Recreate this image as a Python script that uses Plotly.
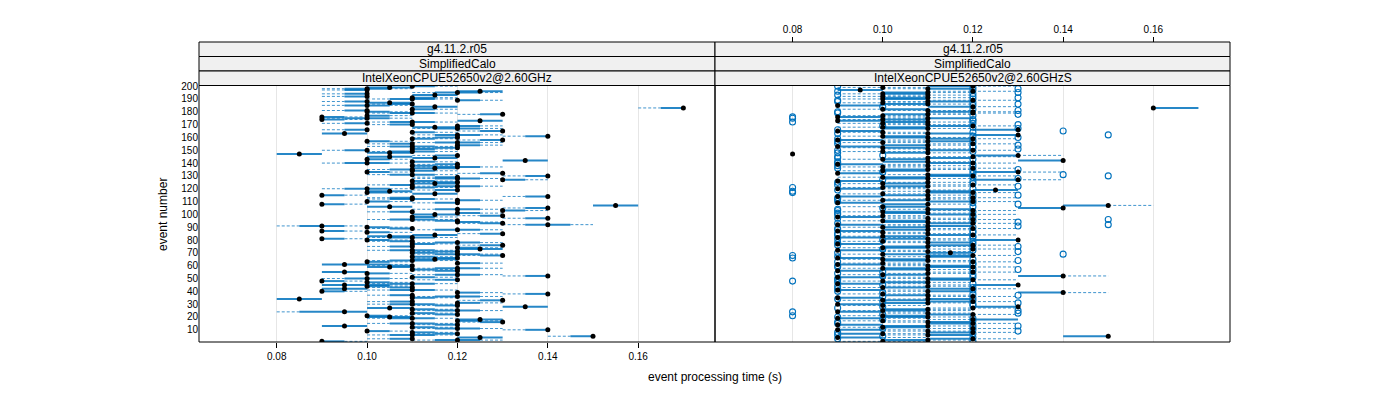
import plotly.graph_objects as go

events = list(range(1, 201))

# ---------------- left panel: per-event box statistics (seconds) ----------------
left_med = [
    0.09, 0.12, 0.11, 0.125, 0.15, 0.11, 0.12, 0.11, 0.10, 0.14,
    0.12, 0.11, 0.095, 0.12, 0.11, 0.13, 0.12, 0.125, 0.11, 0.105,
    0.10, 0.12, 0.11, 0.095, 0.12, 0.11, 0.105, 0.135, 0.12, 0.11,
    0.12, 0.11, 0.13, 0.085, 0.11, 0.12, 0.11, 0.14, 0.12, 0.09,
    0.11, 0.095, 0.11, 0.10, 0.095, 0.11, 0.10, 0.09, 0.12, 0.10,
    0.11, 0.14, 0.12, 0.10, 0.095, 0.12, 0.11, 0.12, 0.105, 0.11,
    0.095, 0.12, 0.10, 0.11, 0.115, 0.12, 0.11, 0.13, 0.12, 0.11,
    0.12, 0.11, 0.125, 0.12, 0.11, 0.13, 0.11, 0.12, 0.11, 0.10,
    0.09, 0.11, 0.105, 0.115, 0.13, 0.10, 0.09, 0.12, 0.11, 0.10,
    0.09, 0.14, 0.13, 0.12, 0.12, 0.11, 0.14, 0.11, 0.13, 0.115,
    0.12, 0.11, 0.13, 0.12, 0.14, 0.105, 0.155, 0.09, 0.12, 0.10,
    0.12, 0.11, 0.11, 0.14, 0.09, 0.115, 0.10, 0.105, 0.12, 0.10,
    0.11, 0.12, 0.11, 0.115, 0.12, 0.11, 0.13, 0.12, 0.12, 0.14,
    0.11, 0.13, 0.10, 0.11, 0.11, 0.115, 0.12, 0.11, 0.12, 0.10,
    0.11, 0.135, 0.10, 0.115, 0.105, 0.12, 0.085, 0.105, 0.11, 0.10,
    0.11, 0.12, 0.11, 0.12, 0.11, 0.12, 0.10, 0.13, 0.11, 0.12,
    0.14, 0.12, 0.095, 0.11, 0.13, 0.10, 0.12, 0.115, 0.12, 0.11,
    0.10, 0.11, 0.125, 0.09, 0.10, 0.09, 0.10, 0.13, 0.11, 0.10,
    0.10, 0.11, 0.17, 0.115, 0.10, 0.11, 0.105, 0.10, 0.12, 0.11,
    0.11, 0.10, 0.115, 0.10, 0.12, 0.125, 0.10, 0.10, 0.105, 0.11,
]
left_lo = [
    .09, .11, .10, .12, .14, .10, .11, .11, .10, .13,
    .11, .11, .09, .11, .10, .12, .12, .12, .10, .10,
    .10, .11, .11, .08, .11, .11, .10, .13, .11, .10,
    .12, .10, .12, .08, .11, .11, .10, .13, .12, .09,
    .10, .09, .10, .10, .09, .10, .10, .09, .11, .09,
    .11, .13, .11, .10, .09, .11, .11, .11, .10, .10,
    .09, .12, .10, .10, .11, .11, .11, .12, .11, .11,
    .11, .10, .12, .12, .10, .12, .11, .11, .10, .10,
    .09, .10, .10, .11, .12, .10, .09, .11, .10, .10,
    .08, .13, .12, .12, .11, .10, .13, .11, .12, .11,
    .12, .10, .13, .11, .13, .10, .15, .09, .11, .10,
    .12, .10, .10, .13, .09, .11, .10, .10, .11, .09,
    .11, .11, .10, .11, .11, .11, .13, .11, .11, .13,
    .10, .12, .10, .11, .10, .11, .11, .11, .11, .09,
    .11, .13, .10, .11, .10, .11, .08, .10, .10, .09,
    .11, .11, .10, .12, .10, .11, .10, .12, .11, .11,
    .13, .11, .09, .11, .12, .09, .11, .11, .12, .10,
    .09, .10, .12, .09, .09, .09, .10, .12, .10, .10,
    .09, .11, .16, .11, .09, .10, .10, .09, .12, .10,
    .11, .09, .11, .09, .11, .12, .09, .09, .10, .11,
]
left_q1 = [
    .09, .115, .105, .12, .145, .105, .115, .11, .10, .135,
    .115, .11, .09, .115, .105, .125, .12, .12, .105, .10,
    .10, .115, .11, .085, .115, .11, .10, .13, .115, .105,
    .12, .105, .125, .08, .11, .115, .105, .135, .12, .09,
    .105, .09, .105, .10, .09, .105, .10, .09, .115, .095,
    .11, .135, .115, .10, .09, .115, .11, .115, .10, .105,
    .09, .12, .10, .105, .11, .115, .11, .125, .115, .11,
    .115, .105, .12, .12, .105, .125, .11, .115, .105, .10,
    .09, .105, .10, .11, .125, .10, .09, .115, .105, .10,
    .085, .135, .125, .12, .115, .105, .135, .11, .125, .11,
    .12, .105, .13, .115, .135, .10, .15, .09, .115, .10,
    .12, .105, .105, .135, .09, .11, .10, .10, .115, .095,
    .11, .115, .105, .11, .115, .11, .13, .115, .115, .135,
    .105, .125, .10, .11, .105, .11, .115, .11, .115, .095,
    .11, .13, .10, .11, .10, .115, .08, .10, .105, .095,
    .11, .115, .105, .12, .105, .115, .10, .125, .11, .115,
    .135, .115, .09, .11, .125, .095, .115, .11, .12, .105,
    .095, .105, .12, .09, .095, .09, .10, .125, .105, .10,
    .095, .11, .165, .11, .095, .105, .10, .095, .12, .105,
    .11, .095, .11, .095, .115, .12, .095, .095, .10, .11,
]
left_q3 = [
    .095, .125, .11, .13, .15, .115, .12, .115, .105, .14,
    .125, .115, .10, .12, .115, .13, .125, .13, .115, .11,
    .105, .12, .115, .10, .125, .115, .11, .14, .12, .115,
    .125, .11, .13, .09, .115, .125, .11, .14, .125, .095,
    .115, .10, .11, .105, .105, .115, .105, .095, .12, .105,
    .115, .14, .125, .105, .10, .12, .115, .125, .11, .11,
    .105, .125, .105, .115, .12, .12, .115, .13, .125, .115,
    .12, .115, .13, .125, .11, .13, .115, .125, .11, .105,
    .095, .115, .11, .12, .13, .105, .095, .125, .11, .105,
    .095, .145, .13, .125, .12, .115, .14, .115, .13, .12,
    .125, .11, .135, .125, .14, .11, .16, .095, .12, .105,
    .125, .115, .11, .14, .095, .12, .105, .11, .12, .105,
    .115, .125, .11, .12, .12, .115, .135, .125, .12, .14,
    .115, .13, .105, .115, .11, .12, .125, .115, .12, .105,
    .115, .14, .105, .12, .11, .12, .09, .11, .115, .10,
    .115, .12, .115, .125, .11, .125, .105, .13, .115, .12,
    .14, .125, .10, .115, .13, .10, .125, .12, .125, .11,
    .10, .115, .13, .095, .105, .095, .105, .13, .115, .105,
    .10, .115, .17, .12, .105, .11, .11, .10, .125, .115,
    .115, .10, .12, .10, .125, .13, .10, .105, .11, .115,
]
left_hi = [
    .10, .13, .11, .13, .15, .12, .12, .12, .11, .14,
    .13, .12, .10, .12, .12, .13, .13, .13, .12, .11,
    .11, .12, .12, .10, .13, .12, .11, .14, .12, .12,
    .13, .11, .13, .09, .12, .13, .11, .14, .13, .10,
    .12, .10, .11, .11, .11, .12, .11, .10, .12, .11,
    .12, .14, .13, .11, .10, .12, .12, .13, .11, .11,
    .11, .13, .11, .12, .12, .12, .12, .13, .13, .12,
    .12, .12, .13, .13, .11, .13, .12, .13, .11, .11,
    .10, .12, .11, .12, .13, .11, .10, .13, .11, .11,
    .10, .15, .13, .13, .12, .12, .14, .12, .13, .12,
    .13, .11, .14, .13, .14, .11, .16, .10, .12, .11,
    .13, .12, .11, .14, .10, .12, .11, .11, .12, .11,
    .12, .13, .11, .12, .12, .12, .14, .13, .12, .14,
    .12, .13, .11, .12, .11, .12, .13, .12, .12, .11,
    .12, .14, .11, .12, .11, .12, .09, .11, .12, .10,
    .12, .12, .12, .13, .11, .13, .11, .13, .12, .12,
    .14, .13, .10, .12, .13, .10, .13, .12, .13, .11,
    .10, .12, .13, .10, .11, .10, .11, .13, .12, .11,
    .10, .12, .17, .12, .11, .11, .11, .10, .13, .12,
    .12, .10, .12, .10, .13, .13, .10, .11, .11, .12,
]

# ---------------- right panel: per-event box statistics (seconds) ----------------
right_med = [
    0.10, 0.11, 0.12, 0.09, 0.15, 0.11, 0.10, 0.12, 0.11, 0.09,
    0.12, 0.10, 0.11, 0.09, 0.12, 0.11, 0.10, 0.12, 0.09, 0.11,
    0.10, 0.12, 0.11, 0.09, 0.10, 0.11, 0.12, 0.13, 0.10, 0.09,
    0.11, 0.12, 0.10, 0.11, 0.09, 0.12, 0.11, 0.10, 0.14, 0.11,
    0.09, 0.12, 0.10, 0.11, 0.13, 0.09, 0.11, 0.10, 0.12, 0.11,
    0.09, 0.14, 0.10, 0.11, 0.12, 0.09, 0.11, 0.10, 0.12, 0.11,
    0.09, 0.10, 0.12, 0.11, 0.10, 0.09, 0.11, 0.12, 0.10, 0.115,
    0.11, 0.09, 0.12, 0.10, 0.11, 0.12, 0.09, 0.11, 0.10, 0.13,
    0.11, 0.09, 0.10, 0.12, 0.11, 0.10, 0.09, 0.11, 0.12, 0.10,
    0.11, 0.09, 0.12, 0.11, 0.10, 0.12, 0.11, 0.09, 0.10, 0.12,
    0.11, 0.10, 0.12, 0.11, 0.14, 0.10, 0.15, 0.11, 0.09, 0.12,
    0.10, 0.11, 0.12, 0.09, 0.11, 0.10, 0.12, 0.11, 0.125, 0.09,
    0.10, 0.11, 0.12, 0.10, 0.11, 0.09, 0.13, 0.11, 0.10, 0.12,
    0.11, 0.09, 0.13, 0.10, 0.11, 0.12, 0.10, 0.11, 0.09, 0.12,
    0.11, 0.14, 0.10, 0.11, 0.12, 0.13, 0.08, 0.11, 0.10, 0.12,
    0.11, 0.10, 0.09, 0.11, 0.12, 0.10, 0.11, 0.09, 0.12, 0.11,
    0.10, 0.13, 0.11, 0.10, 0.09, 0.13, 0.11, 0.10, 0.12, 0.11,
    0.10, 0.11, 0.09, 0.10, 0.11, 0.09, 0.10, 0.11, 0.12, 0.12,
    0.11, 0.10, 0.16, 0.12, 0.09, 0.11, 0.10, 0.11, 0.12, 0.10,
    0.11, 0.10, 0.11, 0.10, 0.11, 0.12, 0.095, 0.11, 0.10, 0.12,
]
right_lo = [
    .09, .10, .11, .09, .14, .10, .09, .11, .10, .09,
    .11, .09, .10, .09, .11, .10, .09, .11, .09, .10,
    .09, .11, .10, .09, .09, .10, .11, .12, .09, .09,
    .10, .11, .09, .10, .09, .11, .10, .09, .13, .10,
    .09, .11, .09, .10, .11, .09, .10, .09, .11, .10,
    .09, .13, .09, .10, .11, .09, .10, .09, .11, .10,
    .09, .09, .11, .10, .09, .09, .10, .11, .09, .11,
    .10, .09, .11, .09, .10, .11, .09, .10, .09, .11,
    .10, .09, .09, .11, .10, .09, .09, .10, .11, .09,
    .10, .09, .11, .10, .09, .11, .10, .09, .09, .11,
    .10, .09, .11, .10, .13, .09, .14, .10, .09, .11,
    .09, .10, .11, .09, .10, .09, .11, .10, .11, .09,
    .09, .10, .11, .09, .10, .09, .12, .10, .09, .11,
    .10, .09, .12, .09, .10, .11, .09, .10, .09, .11,
    .10, .13, .09, .10, .11, .12, .08, .10, .09, .11,
    .10, .09, .09, .10, .11, .09, .10, .09, .11, .10,
    .09, .12, .10, .09, .09, .12, .10, .09, .11, .10,
    .09, .10, .09, .09, .10, .09, .09, .10, .11, .11,
    .10, .09, .16, .11, .09, .10, .09, .10, .11, .09,
    .10, .09, .10, .09, .10, .11, .09, .10, .09, .11,
]
right_q1 = [
    .10, .10, .11, .09, .14, .11, .09, .11, .11, .09,
    .12, .10, .10, .09, .11, .11, .10, .12, .09, .10,
    .10, .11, .11, .09, .10, .10, .12, .12, .10, .09,
    .10, .11, .10, .11, .09, .12, .10, .10, .13, .11,
    .09, .11, .10, .11, .12, .09, .10, .10, .11, .11,
    .09, .13, .10, .11, .12, .09, .10, .10, .11, .11,
    .09, .10, .12, .10, .10, .09, .11, .11, .10, .11,
    .11, .09, .12, .10, .10, .11, .09, .11, .10, .12,
    .10, .09, .10, .11, .11, .10, .09, .10, .12, .10,
    .11, .09, .11, .10, .10, .12, .11, .09, .10, .11,
    .10, .10, .12, .11, .13, .10, .14, .10, .09, .11,
    .10, .11, .12, .09, .10, .10, .11, .11, .12, .09,
    .10, .10, .12, .10, .11, .09, .12, .10, .10, .11,
    .11, .09, .12, .10, .10, .12, .10, .11, .09, .11,
    .10, .13, .10, .11, .12, .12, .08, .10, .10, .11,
    .11, .10, .09, .10, .12, .10, .11, .09, .11, .10,
    .10, .12, .11, .10, .09, .12, .10, .10, .11, .11,
    .10, .10, .09, .10, .11, .09, .10, .10, .12, .11,
    .11, .10, .16, .11, .09, .10, .10, .11, .12, .10,
    .10, .10, .11, .10, .10, .12, .09, .11, .10, .11,
]
right_q3 = [
    .10, .11, .12, .10, .15, .12, .10, .12, .11, .10,
    .12, .11, .11, .10, .12, .12, .10, .13, .10, .11,
    .11, .12, .11, .10, .11, .11, .12, .13, .10, .10,
    .11, .12, .11, .12, .10, .12, .11, .10, .14, .12,
    .10, .12, .11, .11, .13, .10, .11, .10, .12, .12,
    .10, .14, .11, .11, .12, .10, .11, .11, .12, .12,
    .10, .10, .12, .11, .11, .10, .12, .12, .11, .12,
    .11, .10, .12, .11, .11, .12, .10, .12, .10, .13,
    .11, .10, .11, .12, .11, .10, .10, .11, .12, .11,
    .12, .10, .12, .11, .11, .12, .11, .10, .10, .12,
    .11, .11, .12, .12, .14, .11, .15, .11, .10, .12,
    .11, .11, .12, .10, .11, .10, .12, .12, .13, .10,
    .10, .11, .12, .11, .11, .10, .13, .11, .11, .12,
    .12, .10, .13, .11, .11, .12, .10, .11, .10, .12,
    .11, .14, .11, .12, .12, .13, .08, .11, .10, .12,
    .11, .11, .10, .11, .12, .10, .12, .10, .12, .11,
    .11, .13, .12, .10, .10, .13, .11, .11, .12, .11,
    .10, .11, .10, .11, .12, .10, .10, .11, .12, .12,
    .11, .11, .17, .12, .10, .11, .10, .12, .12, .11,
    .11, .10, .11, .11, .11, .12, .10, .12, .10, .12,
]
right_hi = [
    .11, .12, .13, .11, .15, .12, .11, .13, .12, .11,
    .13, .11, .12, .10, .13, .12, .11, .13, .11, .12,
    .11, .13, .12, .11, .12, .12, .13, .13, .11, .10,
    .12, .13, .11, .12, .10, .13, .12, .11, .15, .12,
    .11, .13, .11, .12, .13, .11, .12, .11, .13, .12,
    .11, .15, .11, .12, .13, .10, .12, .11, .13, .12,
    .11, .11, .13, .12, .11, .10, .12, .13, .12, .12,
    .12, .11, .13, .11, .12, .13, .10, .12, .11, .13,
    .12, .11, .11, .13, .12, .11, .10, .12, .13, .11,
    .12, .11, .13, .12, .11, .13, .12, .11, .11, .13,
    .12, .11, .13, .12, .14, .11, .16, .12, .10, .13,
    .11, .12, .13, .10, .12, .11, .13, .12, .13, .11,
    .11, .12, .13, .11, .12, .10, .14, .12, .11, .13,
    .12, .10, .14, .11, .12, .13, .11, .12, .11, .13,
    .12, .14, .11, .12, .13, .14, .08, .12, .11, .13,
    .12, .11, .10, .12, .13, .11, .12, .11, .13, .12,
    .11, .13, .12, .11, .10, .13, .12, .11, .13, .12,
    .11, .12, .11, .11, .12, .11, .11, .12, .13, .13,
    .12, .11, .17, .13, .11, .12, .11, .12, .13, .11,
    .12, .11, .12, .11, .12, .13, .10, .12, .11, .13,
]
right_out_event = [
    1, 3, 4, 5, 6, 7, 8, 9, 10,
    11, 12, 13, 14, 15, 16, 17, 18, 19, 20,
    21, 22, 23, 24, 25, 27, 28, 29, 30,
    31, 32, 33, 34, 35, 36, 37, 38, 39, 40,
    41, 42, 43, 44, 45, 46, 47, 48, 49, 50,
    51, 52, 53, 54, 55, 56, 57, 58, 59, 60,
    61, 62, 63, 64, 65, 66, 67, 68, 69, 70,
    71, 72, 73, 74, 75, 76, 77, 78, 79, 80,
    81, 82, 83, 84, 85, 86, 87, 88, 89, 90,
    91, 92, 93, 94, 95, 96, 97, 98, 99, 100,
    101, 102, 103, 104, 105, 106, 108, 109, 110,
    111, 112, 113, 114, 115, 116, 117, 118, 119, 120,
    121, 122, 123, 124, 125, 126, 127, 128, 129, 130,
    131, 132, 133, 134, 135, 136, 137, 138, 139, 140,
    141, 143, 144, 145, 146, 148, 149, 150,
    151, 152, 153, 154, 155, 156, 157, 158, 159, 160,
    161, 162, 163, 164, 165, 166, 167, 168, 169, 170,
    171, 172, 173, 174, 175, 176, 177, 178, 179, 180,
    181, 182, 184, 185, 186, 187, 188, 189, 190,
    191, 192, 193, 194, 195, 196, 197, 198, 199, 200,
]
right_out_value = [
    .12, .09, .12, .10, .09, .12, .09, .13, .12,
    .10, .12, .13, .12, .09, .09, .12, .10, .12, .09,
    .08, .10, .13, .08, .13, .09, .10, .12, .12,
    .13, .10, .12, .09, .12, .10, .13, .12, .10, .09,
    .12, .09, .12, .09, .10, .12, .09, .08, .09, .09,
    .12, .10, .12, .09, .10, .12, .13, .12, .09, .09,
    .12, .12, .09, .13, .12, .08, .09, .08, .14, .09,
    .13, .12, .10, .12, .13, .09, .12, .09, .12, .10,
    .09, .12, .12, .09, .09, .12, .12, .09, .09, .12,
    .13, .15, .09, .13, .12, .15, .09, .12, .12, .09,
    .09, .12, .09, .09, .10, .12, .13, .12, .09,
    .12, .09, .09, .12, .13, .12, .08, .08, .09, .12,
    .08, .13, .09, .12, .09, .12, .10, .13, .12, .15,
    .14, .12, .10, .12, .13, .09, .12, .09, .12, .09,
    .09, .12, .09, .09, .10, .09, .12, .09,
    .13, .12, .12, .13, .09, .12, .09, .12, .09, .13,
    .12, .15, .09, .12, .14, .09, .13, .12, .10, .13,
    .12, .08, .12, .12, .08, .08, .12, .13, .09, .09,
    .13, .12, .10, .12, .13, .12, .09, .09, .12,
    .13, .12, .09, .12, .13, .09, .12, .13, .12, .09,
]

x_ticks = [0.08, 0.10, 0.12, 0.14, 0.16]
x_tick_labels = ["0.08", "0.10", "0.12", "0.14", "0.16"]
y_ticks = list(range(10, 201, 10))
strips_left = ["g4.11.2.r05", "SimplifiedCalo", "IntelXeonCPUE52650v2@2.60GHz"]
strips_right = ["g4.11.2.r05", "SimplifiedCalo", "IntelXeonCPUE52650v2@2.60GHzS"]

X_RANGE = [0.0628, 0.1770]
Y_RANGE = [0.5, 200.5]
FONT = "Liberation Sans, Arial, Helvetica, sans-serif"
BOX_COL = "rgba(0,114,189,0.85)"
WHISK_COL = "rgba(0,114,189,0.75)"
OUT_COL = "#0072BD"

# page is offset by the 8px default body margin
OFF = 8
W, H = 1400, 400
ML, MR, MT = 199 - OFF, 1400 - 1230 + OFF, 42 - OFF
PLOT_H = 300
MB = H - MT - PLOT_H
PLOT_W = W - ML - MR
data_top = (342 - 85.5) / PLOT_H
split = (715 - 199) / PLOT_W


def segments(x0s, x1s, ys):
    xs, yy = [], []
    for a, b, y in zip(x0s, x1s, ys):
        if b > a:
            xs += [a, b, None]
            yy += [y, y, None]
    return xs, yy


def add_panel(med, lo, q1, q3, hi, xa, ya):
    wx1, wy1 = segments(lo, q1, events)
    wx2, wy2 = segments(q3, hi, events)
    fig.add_trace(go.Scatter(x=wx1 + wx2, y=wy1 + wy2, mode="lines",
                             line=dict(color=WHISK_COL, width=1, dash="3px,2px"),
                             xaxis=xa, yaxis=ya, hoverinfo="skip", showlegend=False))
    bx, by = segments(q1, q3, events)
    fig.add_trace(go.Scatter(x=bx, y=by, mode="lines", line=dict(color=BOX_COL, width=2),
                             xaxis=xa, yaxis=ya, hoverinfo="skip", showlegend=False))


fig = go.Figure()
add_panel(left_med, left_lo, left_q1, left_q3, left_hi, "x", "y")
fig.add_trace(go.Scatter(x=left_med, y=events, mode="markers", marker=dict(color="black", size=5),
                         xaxis="x", yaxis="y", showlegend=False))

add_panel(right_med, right_lo, right_q1, right_q3, right_hi, "x2", "y2")
fig.add_trace(go.Scatter(x=right_out_value, y=right_out_event, mode="markers",
                         marker=dict(color=OUT_COL, size=6, symbol="circle-open",
                                     line=dict(color=OUT_COL, width=1.1)),
                         xaxis="x2", yaxis="y2", showlegend=False))
fig.add_trace(go.Scatter(x=right_med, y=events, mode="markers", marker=dict(color="black", size=5),
                         xaxis="x2", yaxis="y2", showlegend=False))

tickfont = dict(family=FONT, size=10, color="black")
common_x = dict(range=X_RANGE, tickvals=x_ticks, ticktext=x_tick_labels, showgrid=True, gridcolor="#e6e6e6",
                gridwidth=1, zeroline=False, showline=False, tickfont=tickfont, ticks="outside", ticklen=5,
                tickcolor="black", fixedrange=True)
plain_ticks = dict(range=X_RANGE, tickvals=x_ticks, showticklabels=False, ticks="outside", ticklen=5,
                   tickcolor="black", showgrid=False, zeroline=False, showline=False, fixedrange=True)

fig.update_layout(
    width=W, height=H,
    margin=dict(l=ML, r=MR, t=MT, b=MB),
    paper_bgcolor="white", plot_bgcolor="white",
    font=dict(family=FONT, color="black"),
    xaxis=dict(domain=[0, split], anchor="y", side="bottom", **common_x),
    xaxis2=dict(domain=[split, 1], anchor="free", position=1.0, side="top", **common_x),
    xaxis3=dict(domain=[0, split], anchor="free", position=1.0, side="top", overlaying="x", **plain_ticks),
    xaxis4=dict(domain=[split, 1], anchor="y2", side="bottom", overlaying="x2", **plain_ticks),
    yaxis=dict(domain=[0, data_top], anchor="x", range=Y_RANGE, tickvals=y_ticks, showgrid=False, zeroline=False,
               showline=False, ticks="", tickfont=tickfont, fixedrange=True),
    yaxis2=dict(domain=[0, data_top], anchor="x2", range=Y_RANGE, tickvals=y_ticks, showgrid=False, zeroline=False,
                showline=False, showticklabels=False, ticks="", fixedrange=True),
)

shapes = []
for x0, x1 in [(0, split), (split, 1)]:
    shapes.append(dict(type="rect", xref="paper", yref="paper", x0=x0, x1=x1, y0=0, y1=data_top,
                       line=dict(color="black", width=1), fillcolor="rgba(0,0,0,0)", layer="above"))
strip_h = (1 - data_top) / 3
annotations = []
for (x0, x1), labels in [((0, split), strips_left), ((split, 1), strips_right)]:
    for k, lab in enumerate(labels):
        y1 = 1 - k * strip_h
        y0 = y1 - strip_h
        shapes.append(dict(type="rect", xref="paper", yref="paper", x0=x0, x1=x1, y0=y0, y1=y1,
                           line=dict(color="black", width=1), fillcolor="#f0f0f0", layer="below"))
        annotations.append(dict(xref="paper", yref="paper", x=(x0 + x1) / 2, y=(y0 + y1) / 2, text=lab,
                                showarrow=False, font=dict(family=FONT, size=12, color="black"),
                                xanchor="center", yanchor="middle"))


def px_to_paper(px, py):
    return (px - 199) / PLOT_W, (342 - py) / PLOT_H


tx, ty = px_to_paper(715, 377)
annotations.append(dict(xref="paper", yref="paper", x=tx, y=ty, text="event processing time (s)",
                        showarrow=False, font=dict(family=FONT, size=12, color="black"),
                        xanchor="center", yanchor="middle"))
tx, ty = px_to_paper(163, 215)
annotations.append(dict(xref="paper", yref="paper", x=tx, y=ty, text="event number", showarrow=False,
                        textangle=-90, font=dict(family=FONT, size=12, color="black"),
                        xanchor="center", yanchor="middle"))

fig.update_layout(shapes=shapes, annotations=annotations)
fig.write_html("out.html")
